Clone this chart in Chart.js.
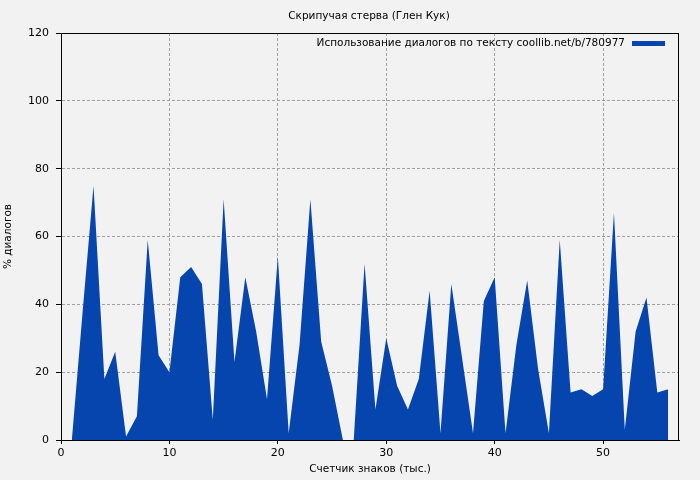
<!DOCTYPE html>
<html lang="ru">
<head>
<meta charset="utf-8">
<title>Скрипучая стерва (Глен Кук)</title>
<script src="https://cdn.jsdelivr.net/npm/chart.js@4.4.0/dist/chart.umd.min.js"></script>
<style>
  html, body { margin: 0; padding: 0; background: #f2f2f2; }
  canvas { display: block; }
</style>
</head>
<body>
<canvas id="grafico" width="700" height="480"></canvas>
<script>
// Тексты
const titulo = 'Скрипучая стерва (Глен Кук)';
const legenda = 'Использование диалогов по тексту coollib.net/b/780977';
const tituloX = 'Счетчик знаков (тыс.)';
const tituloY = '% диалогов';

// Счетчик знаков, тыс.
const znaki = [1, 2, 3, 4, 5, 6, 7, 8, 9, 10,
               11, 12, 13, 14, 15, 16, 17, 18, 19, 20,
               21, 22, 23, 24, 25, 26, 27, 28, 29, 30,
               31, 32, 33, 34, 35, 36, 37, 38, 39, 40,
               41, 42, 43, 44, 45, 46, 47, 48, 49, 50,
               51, 52, 53, 54, 55, 56];
// % диалогов
const dialogi = [0, 38, 75, 18, 26, 1, 7, 59, 25, 20,
                 48, 51, 46, 6, 71, 23, 48, 32, 12, 54,
                 2, 28, 71, 29, 16, 0, 0, 52, 9, 30,
                 16, 9, 18, 44, 2, 46, 24, 2, 41, 48,
                 2, 28, 47, 21, 2, 59, 14, 15, 13, 15,
                 67, 3, 32, 42, 14, 15];

const ticksX = [0, 10, 20, 30, 40, 50];
const ticksY = [0, 20, 40, 60, 80, 100, 120];

const corArea = '#0645ad';
const corGrade = '#a0a0a0';
const fonte = 'DejaVu Sans';

document.addEventListener('DOMContentLoaded', function () {

    // título, legenda e moldura desenhados à mão
    const extras = {
        id: 'extras',
        afterDatasetsDraw(chart) {
            const ctx = chart.ctx;
            const a = chart.chartArea;
            ctx.save();
            ctx.strokeStyle = '#000';
            ctx.lineWidth = 1;
            ctx.strokeRect(Math.round(a.left) + 0.5, Math.round(a.top) + 0.5,
                           Math.round(a.right - a.left) - 1, Math.round(a.bottom - a.top));
            ctx.restore();
        },
        afterDraw(chart) {
            const ctx = chart.ctx;
            ctx.save();
            ctx.fillStyle = '#000';
            ctx.font = '10.5px "' + fonte + '"';
            ctx.textBaseline = 'middle';
            ctx.textAlign = 'center';
            ctx.fillText(titulo, 369, 16);

            ctx.textAlign = 'right';
            ctx.fillText(legenda, 625, 43.5);
            ctx.fillStyle = corArea;
            ctx.fillRect(632, 41, 33, 5);
            ctx.restore();
        }
    };

    const ctx = document.getElementById('grafico').getContext('2d');

    new Chart(ctx, {
        type: 'line',
        data: {
            datasets: [{
                label: legenda,
                data: znaki.map((x, i) => ({ x: x, y: dialogi[i] })),
                backgroundColor: corArea,
                borderColor: corArea,
                borderWidth: 0,
                pointRadius: 0,
                tension: 0,
                fill: 'origin'
            }]
        },
        options: {
            responsive: false,
            animation: false,
            events: [],
            layout: {
                padding: { top: 33, right: 21, left: 0, bottom: 0 }
            },
            scales: {
                x: {
                    type: 'linear',
                    min: 0,
                    max: 57,
                    afterFit: s => { s.height = 40; },
                    afterBuildTicks: s => { s.ticks = ticksX.map(v => ({ value: v })); },
                    grid: {
                        color: corGrade,
                        tickColor: '#000',
                        tickLength: 4,
                        tickBorderDash: []
                    },
                    border: { color: '#000', dash: [3, 2] },
                    ticks: {
                        color: '#000',
                        padding: 3,
                        maxRotation: 0,
                        font: { family: fonte, size: 11 }
                    },
                    title: {
                        display: true,
                        text: tituloX,
                        color: '#000',
                        padding: { top: 0, bottom: 4 },
                        font: { family: fonte, size: 10.5 }
                    }
                },
                y: {
                    min: 0,
                    max: 120,
                    afterFit: s => { s.width = 61; },
                    afterBuildTicks: s => { s.ticks = ticksY.map(v => ({ value: v })); },
                    grid: {
                        color: corGrade,
                        tickColor: '#000',
                        tickLength: 5,
                        tickBorderDash: []
                    },
                    border: { color: '#000', dash: [3, 2] },
                    ticks: {
                        color: '#000',
                        padding: 7,
                        font: { family: fonte, size: 11 }
                    },
                    title: {
                        display: true,
                        text: tituloY,
                        color: '#000',
                        padding: { top: 2, bottom: 0 },
                        font: { family: fonte, size: 10.5 }
                    }
                }
            },
            plugins: {
                legend: { display: false },
                title: { display: false },
                tooltip: { enabled: false }
            }
        },
        plugins: [extras]
    });
});
</script>
</body>
</html>
